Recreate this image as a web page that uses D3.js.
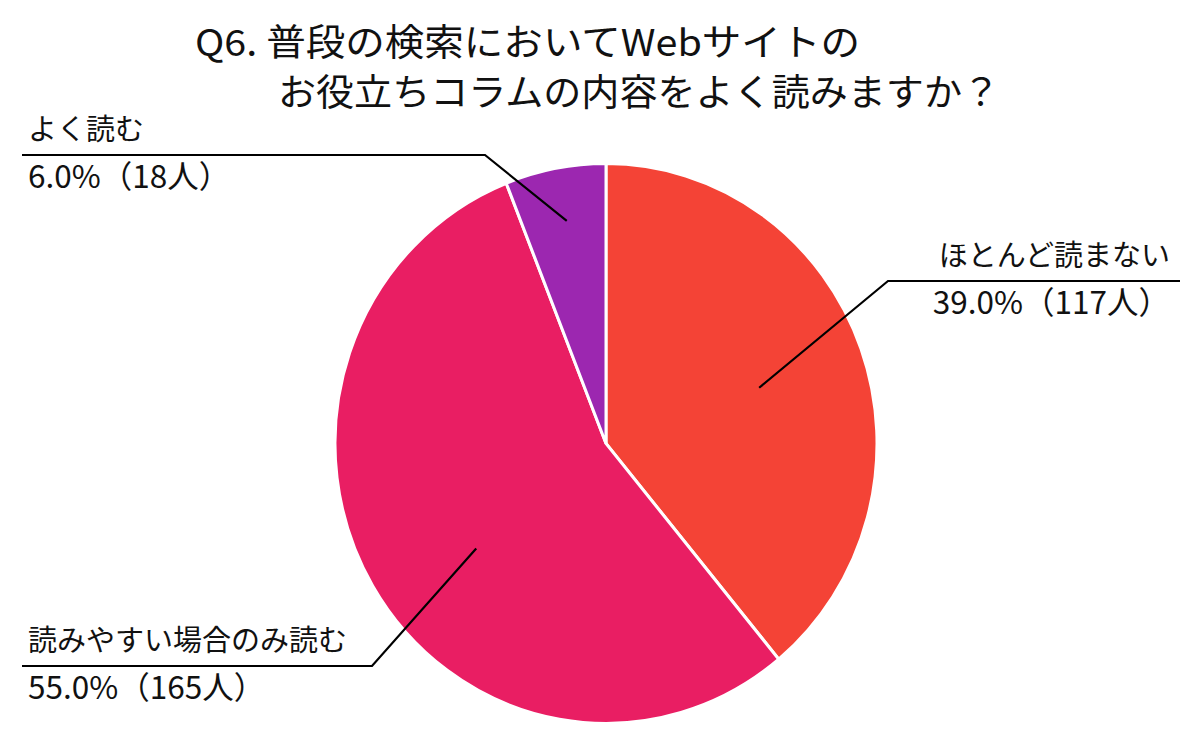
<!DOCTYPE html>
<html><head><meta charset="utf-8">
<script src="https://cdn.jsdelivr.net/npm/d3@7"></script>
<style>
html,body{margin:0;padding:0;background:#fff;}
svg{display:block;}
text{font-family:"Noto Sans CJK JP","Noto Sans",sans-serif;fill:#111;}
</style></head>
<body>
<script>
const titleLines = ["Q6. 普段の検索においてWebサイトの", "お役立ちコラムの内容をよく読みますか？"];
const categories = ["ほとんど読まない", "読みやすい場合のみ読む", "よく読む"];
const counts = [117, 165, 18];
const percents = [39.0, 55.0, 6.0];
const colors = ["#F44336", "#E91E63", "#9C27B0"];

const W = 1200, H = 740;
const cx = 606, cy = 443.5, R = 271, yScale = 1.033;

const svg = d3.select("body").append("svg").attr("width", W).attr("height", H);

// title
const titleLayout = [{x:195, y:56, len:665}, {x:278, y:106, len:722}];
svg.selectAll("text.title").data(titleLines).join("text")
  .attr("class","title")
  .attr("x",(d,i)=>titleLayout[i].x).attr("y",(d,i)=>titleLayout[i].y)
  .attr("font-size",37).attr("textLength",(d,i)=>titleLayout[i].len)
  .attr("lengthAdjust","spacingAndGlyphs")
  .text(d=>d);

const data = categories.map((c,i)=>({name:c, value:counts[i], pct:percents[i], color:colors[i]}));
const pie = d3.pie().value(d=>d.value).sort(null);
const arcs = pie(data);
const arc = d3.arc().innerRadius(0).outerRadius(R);

const g = svg.append("g").attr("transform",`translate(${cx},${cy}) scale(1,${yScale})`);
g.selectAll("path").data(arcs).join("path")
  .attr("d",arc).attr("fill",d=>d.data.color)
  .attr("stroke","#fff").attr("stroke-width",3);

// label layout: leader anchor (polar around centre), elbow, line extent, text side
const labelLayout = [
  {ang:70, r:163, elbow:[888,281], lineEnd:1180, anchor:"end", tx:1170},
  {ang:231, r:167, elbow:[372,666], lineEnd:22, anchor:"start", tx:28},
  {ang:350, r:226, elbow:[485,155], lineEnd:22, anchor:"start", tx:28}
];
const fmtPct = d3.format(".1f");
arcs.forEach((a,i)=>{
  const L = labelLayout[i];
  const rad = L.ang*Math.PI/180;
  const px = cx + L.r*Math.sin(rad), py = cy - L.r*Math.cos(rad);
  svg.append("polyline")
    .attr("points",`${px},${py} ${L.elbow[0]},${L.elbow[1]} ${L.lineEnd},${L.elbow[1]}`)
    .attr("fill","none").attr("stroke","#000").attr("stroke-width",2.2);
  svg.append("text").attr("x",L.tx).attr("y",L.elbow[1]-15)
    .attr("text-anchor",L.anchor).attr("font-size",29).text(a.data.name);
  svg.append("text").attr("x",L.tx).attr("y",L.elbow[1]+33)
    .attr("text-anchor",L.anchor).attr("font-size",31.5)
    .text(`${fmtPct(a.data.pct)}%（${a.data.value}人）`);
});
</script>
</body></html>
